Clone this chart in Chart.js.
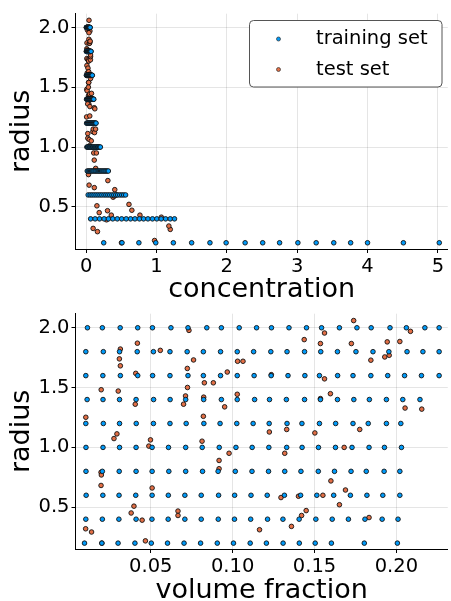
<!DOCTYPE html>
<html lang="en">
<head>
  <meta charset="UTF-8">
  <title>radius vs concentration / volume fraction</title>
  <script src="https://cdn.jsdelivr.net/npm/chart.js"></script>
  <style>
    html, body { margin: 0; padding: 0; background: #fff; }
    canvas { display: block; }
  </style>
</head>
<body>
<canvas id="concChart" width="451" height="300"></canvas>
<canvas id="volChart" width="451" height="301"></canvas>

<script>
  // ---- data ----
  const seriesNames = ['training set', 'test set'];

  // training set: volume fraction for each radius row
  const vfR02 = [0.0095,0.0201,0.0300,0.0403,0.0503,0.0602,0.0703,0.0804,0.0906,0.1005,0.1107,0.1206,0.1308,0.1407,0.1504,0.1603,0.1804,0.2006];
  const vfR04 = [0.0103,0.0204,0.0305,0.0410,0.0507,0.0606,0.0708,0.0808,0.0912,0.1011,0.1110,0.1213,0.1307,0.1406,0.1508,0.1608,0.1707,0.1808,0.1913,0.2010];
  const vfR06 = [0.0105,0.0207,0.0306,0.0408,0.0508,0.0607,0.0708,0.0808,0.0914,0.1012,0.1112,0.1211,0.1316,0.1415,0.1514,0.1617,0.1719,0.1820,0.1917,0.2021];
  const vfR08 = [0.0104,0.0204,0.0307,0.0410,0.0508,0.0610,0.0713,0.0816,0.0911,0.1016,0.1118,0.1219,0.1318,0.1417,0.1523,0.1622,0.1723,0.1816,0.1925,0.2021];
  const vfR10 = [0.0104,0.0208,0.0309,0.0410,0.0508,0.0608,0.0713,0.0814,0.0918,0.1020,0.1119,0.1221,0.1330,0.1424,0.1524,0.1628,0.1729,0.1833,0.1927,0.2031];
  const vfR12 = [0.0103,0.0210,0.0309,0.0411,0.0516,0.0617,0.0716,0.0824,0.0923,0.1025,0.1125,0.1223,0.1332,0.1423,0.1530,0.1629,0.1735,0.1828,0.1939,0.2027];
  const vfR14 = [0.0111,0.0208,0.0309,0.0410,0.0517,0.0618,0.0713,0.0823,0.0931,0.1028,0.1134,0.1225,0.1328,0.1439,0.1536,0.1640,0.1740,0.1835,0.1939,0.2039,0.2144];
  const vfR16 = [0.0103,0.0207,0.0314,0.0420,0.0511,0.0617,0.0727,0.0821,0.0926,0.1028,0.1131,0.1235,0.1338,0.1441,0.1530,0.1641,0.1735,0.1844,0.1947,0.2050,0.2153,0.2261];
  const vfR18 = [0.0103,0.0210,0.0309,0.0417,0.0516,0.0617,0.0722,0.0821,0.0926,0.1028,0.1128,0.1233,0.1332,0.1439,0.1538,0.1640,0.1753,0.1857,0.1954,0.2065,0.2162,0.2261];
  const vfR20 = [0.0113,0.0204,0.0313,0.0420,0.0510,0.0623,0.0727,0.0842,0.0931,0.1040,0.1146,0.1237,0.1344,0.1451,0.1543,0.1652,0.1759,0.1846,0.1961,0.2061,0.2174,0.2261];

  // training set: concentration for each radius row
  const concR02 = [0.25,0.51,0.75,0.99,1.24,1.50,1.76,1.99,2.26,2.51,2.75,3.01,3.27,3.52,3.76,4.00,4.51,5.02];
  const concR04 = [0.064,0.128,0.191,0.256,0.317,0.379,0.443,0.505,0.570,0.632,0.694,0.758,0.817,0.879,0.943,1.005,1.067,1.130,1.196,1.256];
  const concR06 = [0.029,0.058,0.085,0.113,0.141,0.169,0.197,0.224,0.254,0.281,0.309,0.336,0.366,0.393,0.421,0.449,0.478,0.506,0.533,0.561];
  const concR08 = [0.016,0.032,0.048,0.064,0.079,0.095,0.111,0.128,0.142,0.159,0.175,0.190,0.206,0.221,0.238,0.253,0.269,0.284,0.301,0.316];
  const concR10 = [0.010,0.021,0.031,0.041,0.051,0.061,0.071,0.081,0.092,0.102,0.112,0.122,0.133,0.142,0.152,0.163,0.173,0.183,0.193,0.203];
  const concR12 = [0.007,0.015,0.021,0.029,0.036,0.043,0.050,0.057,0.064,0.071,0.078,0.085,0.093,0.099,0.106,0.113,0.120,0.127,0.135,0.141];
  const concR14 = [0.006,0.011,0.016,0.021,0.026,0.032,0.036,0.042,0.048,0.052,0.058,0.063,0.068,0.073,0.078,0.084,0.089,0.094,0.099,0.104,0.109];
  const concR16 = [0.004,0.008,0.012,0.016,0.020,0.024,0.028,0.032,0.036,0.040,0.044,0.048,0.052,0.056,0.060,0.064,0.068,0.072,0.076,0.080,0.084,0.088];
  const concR18 = [0.003,0.006,0.010,0.013,0.016,0.019,0.022,0.025,0.029,0.032,0.035,0.038,0.041,0.044,0.048,0.051,0.054,0.057,0.060,0.064,0.067,0.070];
  const concR20 = [0.003,0.005,0.008,0.011,0.013,0.016,0.018,0.021,0.023,0.026,0.029,0.031,0.034,0.036,0.039,0.041,0.044,0.046,0.049,0.052,0.054,0.057];

  const trainRows = [
    [0.2, vfR02, concR02], [0.4, vfR04, concR04], [0.6, vfR06, concR06], [0.8, vfR08, concR08], [1.0, vfR10, concR10],
    [1.2, vfR12, concR12], [1.4, vfR14, concR14], [1.6, vfR16, concR16], [1.8, vfR18, concR18], [2.0, vfR20, concR20]
  ];

  // test set
  const testVolFrac = [
    0.0733,0.0314,0.0418,0.0558,0.0308,0.0314,0.0408,0.0761,0.0723,0.0967,0.0827,0.0882,0.1030,0.1063,0.0197,
    0.0301,0.0724,0.0712,0.0700,0.0405,0.0823,0.1028,0.0951,0.0103,0.0821,0.0293,0.0275,0.0498,0.0488,0.0813,
    0.1739,0.2086,0.1561,0.1437,0.1536,0.1725,0.1944,0.2021,0.1844,0.1929,0.1956,0.1236,0.1561,0.1597,0.1536,
    0.2053,0.2155,0.1224,0.1330,0.1502,0.1776,0.1681,
    0.0978,0.0917,0.0917,0.0196,0.0198,0.0196,0.0508,0.0397,0.0380,0.0447,0.0666,0.0666,0.0102,0.0138,0.0467,
    0.1164,0.0201,
    0.1318,0.1600,0.1689,0.1551,0.1295,0.1402,0.1652,0.1449,0.1421,0.1833,0.1359
  ];
  const testRadius = [
    1.978,1.822,1.871,1.811,1.740,1.682,1.619,1.731,1.660,1.630,1.540,1.540,1.720,1.720,1.482,
    1.471,1.501,1.430,1.361,1.361,1.420,1.444,1.339,1.252,1.260,1.113,1.074,1.063,1.011,1.052,
    2.060,1.970,1.956,1.901,1.868,1.868,1.882,1.885,1.729,1.756,1.770,1.608,1.573,1.449,1.408,
    1.329,1.320,1.129,1.150,1.121,1.150,1.000,
    0.951,0.891,0.822,0.792,0.770,0.682,0.661,0.509,0.452,0.392,0.468,0.431,0.320,0.293,0.219,
    0.312,0.200,
    0.951,0.720,0.644,0.600,0.581,0.592,0.521,0.472,0.431,0.414,0.340
  ];
  const testConc = [
    0.0187,0.0095,0.0119,0.0170,0.0102,0.0111,0.0156,0.0254,0.0262,0.0364,0.0349,0.0372,0.0348,0.0359,0.0090,
    0.0139,0.0322,0.0349,0.0378,0.0219,0.0408,0.0493,0.0531,0.0066,0.0517,0.0236,0.0238,0.0441,0.0477,0.0734,
    0.0410,0.0538,0.0408,0.0398,0.0440,0.0494,0.0549,0.0569,0.0617,0.0626,0.0625,0.0478,0.0631,0.0760,0.0776,
    0.1162,0.1237,0.0960,0.1006,0.1195,0.1343,0.1681,
    0.1082,0.1155,0.1357,0.0313,0.0334,0.0422,0.1163,0.1533,0.1860,0.2900,0.3040,0.3580,0.0996,0.1610,0.9730,
    1.1960,0.5025,
    0.1458,0.3090,0.4070,0.4310,0.3836,0.4000,0.6090,0.6500,0.7650,1.0690,1.1760
  ];

  // tick labels
  const concTicks = [0, 1, 2, 3, 4, 5];
  const volTicks = [0.05, 0.10, 0.15, 0.20];
  const radiusTicks = [0.5, 1.0, 1.5, 2.0];

  // ---- styling ----
  const FONT = "'DejaVu Sans', 'Liberation Sans', sans-serif";
  const BLUE = '#009af9';
  const ORANGE = '#e26f46';
  Chart.defaults.font.family = FONT;
  Chart.defaults.color = '#000';

  function trainPoints(which) {
    const pts = [];
    trainRows.forEach(([r, vf, conc]) => {
      const xs = which === 'vf' ? vf : conc;
      xs.forEach(x => pts.push({ x: x, y: r }));
    });
    return pts;
  }

  function testPoints(xs) {
    return xs.map((x, i) => ({ x: x, y: testRadius[i] }));
  }

  function pointDataset(label, data, color) {
    return {
      label: label,
      data: data,
      backgroundColor: color,
      borderColor: '#111',
      borderWidth: 0.9,
      pointRadius: 2.3,
      pointHoverRadius: 2.3
    };
  }

  function axis(min, max, ticks, digits, title, isX, boxSize) {
    return {
      type: 'linear',
      min: min,
      max: max,
      afterBuildTicks: s => { s.ticks = ticks.map(v => ({ value: v })); },
      afterFit: s => { if (isX) { s.height = boxSize; } else { s.width = boxSize; } },
      ticks: {
        autoSkip: false,
        maxRotation: 0,
        padding: 2,
        color: '#000',
        font: { size: 19.5 },
        callback: v => Number(v).toFixed(digits)
      },
      grid: {
        color: 'rgba(0,0,0,0.1)',
        lineWidth: 1,
        tickColor: '#000',
        tickLength: 4
      },
      border: { display: true, color: '#000', width: 1 },
      title: {
        display: true,
        text: title,
        color: '#000',
        font: { size: 27 },
        padding: isX ? { top: 0, bottom: -6 } : { top: 6, bottom: 0 }
      }
    };
  }

  // legend box drawn inside the top panel
  const boxLegend = {
    id: 'boxLegend',
    afterDatasetsDraw(chart, args, opts) {
      if (!opts.show) return;
      const ctx = chart.ctx;
      ctx.save();
      ctx.beginPath();
      ctx.roundRect(249.5, 20.5, 192.5, 66.5, 4);
      ctx.fillStyle = '#fff';
      ctx.fill();
      ctx.lineWidth = 1;
      ctx.strokeStyle = '#555';
      ctx.stroke();
      chart.data.datasets.forEach((ds, i) => {
        const cy = 39 + i * 30.5;
        ctx.beginPath();
        ctx.arc(278.5, cy, 2, 0, Math.PI * 2);
        ctx.fillStyle = ds.backgroundColor;
        ctx.fill();
        ctx.lineWidth = 0.7;
        ctx.strokeStyle = '#333';
        ctx.stroke();
        ctx.fillStyle = '#000';
        ctx.font = '19.5px ' + FONT;
        ctx.textBaseline = 'middle';
        ctx.textAlign = 'left';
        ctx.fillText(ds.label, 316, cy);
      });
      ctx.restore();
    }
  };

  function baseOptions(padTop, xAxis, yAxis, showLegend) {
    return {
      responsive: false,
      animation: false,
      devicePixelRatio: 1,
      layout: { padding: { top: padTop, right: 1, left: 0, bottom: 0 } },
      plugins: {
        legend: { display: false },
        tooltip: { enabled: false },
        boxLegend: { show: showLegend }
      },
      scales: { x: xAxis, y: yAxis }
    };
  }

  // top panel: radius vs concentration
  new Chart(document.getElementById('concChart'), {
    type: 'scatter',
    data: {
      datasets: [
        pointDataset(seriesNames[0], trainPoints('conc'), BLUE),
        pointDataset(seriesNames[1], testPoints(testConc), ORANGE)
      ]
    },
    options: baseOptions(9,
      axis(-0.151, 5.141, concTicks, 0, 'concentration', true, 51),
      axis(0.148, 2.115, radiusTicks, 1, 'radius', false, 75.5),
      true),
    plugins: [boxLegend]
  });

  // bottom panel: radius vs volume fraction
  new Chart(document.getElementById('volChart'), {
    type: 'scatter',
    data: {
      datasets: [
        pointDataset(seriesNames[0], trainPoints('vf'), BLUE),
        pointDataset(seriesNames[1], testPoints(testVolFrac), ORANGE)
      ]
    },
    options: baseOptions(10,
      axis(0.004, 0.2314, volTicks, 2, 'volume fraction', true, 52),
      axis(0.151, 2.1175, radiusTicks, 1, 'radius', false, 75.5),
      false),
    plugins: [boxLegend]
  });
</script>
</body>
</html>
